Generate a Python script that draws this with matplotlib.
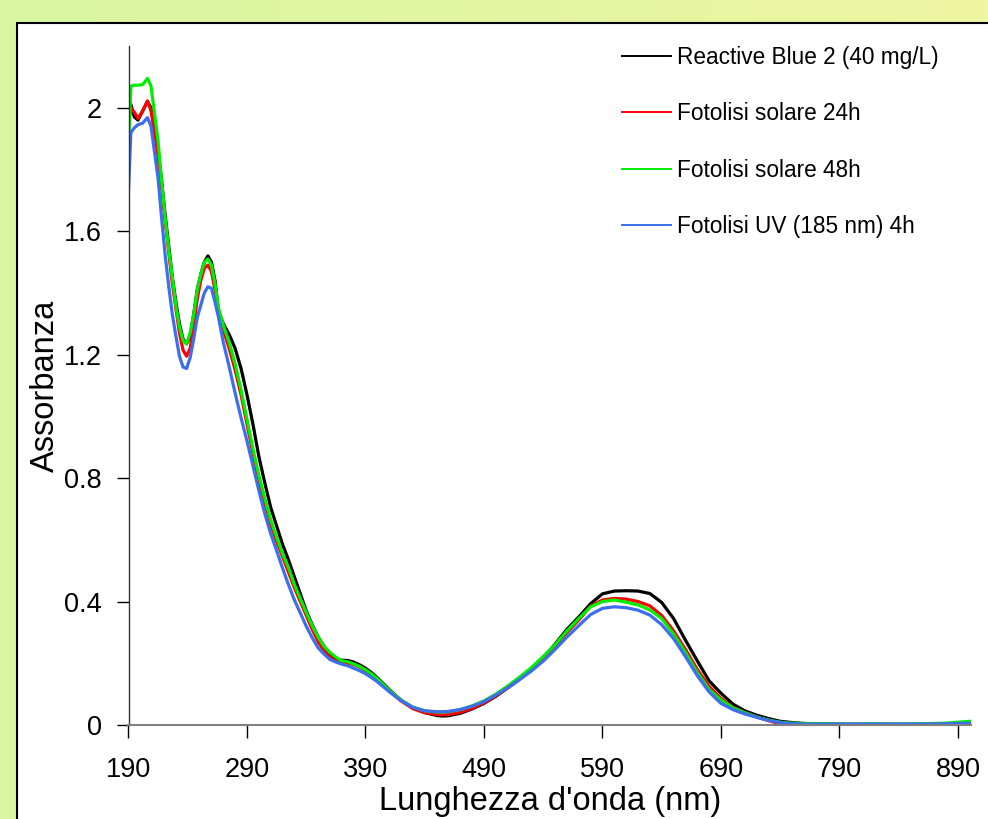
import numpy as np
import matplotlib
matplotlib.use("Agg")
import matplotlib.pyplot as plt
from matplotlib.patches import Rectangle
from matplotlib.colors import LinearSegmentedColormap

plt.rcParams['font.family'] = ['Liberation Sans', 'DejaVu Sans']

wavelength = [190, 192, 195, 198, 202, 206, 209, 212, 215, 218, 221, 224, 227, 230, 233, 236, 239, 242,
              245, 248, 251, 254, 257, 260, 263, 266, 270, 275, 280, 285, 290, 295, 300, 305, 310, 315,
              320, 325, 330, 335, 340, 345, 350, 355, 360, 365, 370, 375, 380, 385, 390, 395, 400, 410,
              420, 430, 440, 450, 455, 460, 470, 480, 490, 500, 510, 520, 530, 540, 550, 560, 570, 580,
              590, 600, 610, 620, 630, 640, 650, 660, 670, 680, 690, 700, 710, 720, 730, 740, 750, 760,
              780, 800, 820, 840, 860, 880, 900]

rb2 = [2.03, 2.01, 1.97, 1.96, 1.99, 2.02, 2.00, 1.93, 1.86, 1.76, 1.65, 1.55, 1.45, 1.37, 1.30, 1.25, 1.235, 1.26,
       1.33, 1.41, 1.46, 1.50, 1.52, 1.50, 1.44, 1.34, 1.30, 1.265, 1.22, 1.155, 1.07, 0.975, 0.87, 0.785, 0.705, 0.645,
       0.585, 0.535, 0.48, 0.425, 0.37, 0.325, 0.285, 0.255, 0.225, 0.214, 0.210, 0.209, 0.204, 0.195, 0.184, 0.170, 0.153, 0.115,
       0.080, 0.055, 0.040, 0.031, 0.029, 0.030, 0.038, 0.052, 0.070, 0.093, 0.120, 0.148, 0.178, 0.218, 0.262, 0.310, 0.350, 0.393,
       0.425, 0.434, 0.435, 0.434, 0.426, 0.397, 0.345, 0.275, 0.208, 0.143, 0.103, 0.068, 0.046, 0.032, 0.021, 0.012, 0.008, 0.005,
       0.003, 0.002, 0.002, 0.002, 0.002, 0.003, 0.004]

sol24 = [1.95, 2.00, 1.985, 1.965, 1.99, 2.022, 1.99, 1.92, 1.84, 1.74, 1.63, 1.53, 1.43, 1.35, 1.27, 1.215, 1.195, 1.22,
         1.29, 1.38, 1.44, 1.48, 1.49, 1.47, 1.41, 1.33, 1.28, 1.22, 1.15, 1.07, 0.975, 0.88, 0.795, 0.72, 0.65, 0.595,
         0.545, 0.495, 0.445, 0.40, 0.355, 0.31, 0.27, 0.24, 0.22, 0.207, 0.202, 0.200, 0.196, 0.188, 0.176, 0.163, 0.147, 0.110,
         0.078, 0.053, 0.040, 0.034, 0.033, 0.034, 0.041, 0.054, 0.072, 0.095, 0.121, 0.150, 0.180, 0.215, 0.255, 0.300, 0.340, 0.385,
         0.405, 0.410, 0.408, 0.400, 0.386, 0.355, 0.305, 0.245, 0.180, 0.125, 0.086, 0.058, 0.040, 0.026, 0.014, 0.004, -0.002, -0.003,
         -0.003, -0.002, -0.001, 0.000, 0.001, 0.002, 0.002]

sol48 = [1.87, 2.07, 2.073, 2.073, 2.075, 2.095, 2.07, 1.98, 1.89, 1.76, 1.64, 1.54, 1.45, 1.36, 1.29, 1.245, 1.235, 1.27,
         1.33, 1.41, 1.46, 1.50, 1.51, 1.49, 1.43, 1.35, 1.295, 1.24, 1.17, 1.085, 0.99, 0.895, 0.81, 0.735, 0.665, 0.608,
         0.555, 0.51, 0.455, 0.41, 0.365, 0.322, 0.285, 0.255, 0.235, 0.220, 0.208, 0.205, 0.198, 0.190, 0.179, 0.166, 0.150, 0.113,
         0.081, 0.058, 0.046, 0.042, 0.042, 0.043, 0.050, 0.062, 0.078, 0.100, 0.126, 0.155, 0.186, 0.222, 0.260, 0.305, 0.345, 0.383,
         0.400, 0.405, 0.398, 0.389, 0.373, 0.345, 0.295, 0.235, 0.170, 0.115, 0.081, 0.056, 0.040, 0.026, 0.016, 0.009, 0.006, 0.005,
         0.004, 0.003, 0.004, 0.003, 0.004, 0.006, 0.012]

uv185 = [1.73, 1.92, 1.935, 1.945, 1.95, 1.968, 1.94, 1.855, 1.77, 1.64, 1.52, 1.42, 1.33, 1.26, 1.195, 1.16, 1.155, 1.19,
         1.25, 1.32, 1.36, 1.40, 1.42, 1.415, 1.37, 1.32, 1.24, 1.16, 1.075, 0.995, 0.92, 0.84, 0.76, 0.685, 0.62, 0.565,
         0.508, 0.455, 0.405, 0.363, 0.32, 0.283, 0.25, 0.23, 0.212, 0.204, 0.197, 0.192, 0.184, 0.176, 0.166, 0.154, 0.140, 0.108,
         0.079, 0.057, 0.046, 0.043, 0.043, 0.044, 0.050, 0.061, 0.076, 0.097, 0.121, 0.147, 0.175, 0.207, 0.245, 0.285, 0.322, 0.358,
         0.378, 0.383, 0.380, 0.372, 0.356, 0.325, 0.280, 0.222, 0.160, 0.107, 0.070, 0.050, 0.036, 0.025, 0.015, 0.008, 0.004, 0.003,
         0.003, 0.003, 0.003, 0.003, 0.003, 0.004, 0.006]

series_labels = ["Reactive Blue 2 (40 mg/L)", "Fotolisi solare 24h", "Fotolisi solare 48h", "Fotolisi UV (185 nm) 4h"]
series_colors = ["#000000", "#ff0000", "#00ee00", "#3d6ef0"]
x_ticks = [190, 290, 390, 490, 590, 690, 790, 890]
y_ticks = [0, 0.4, 0.8, 1.2, 1.6, 2.0]
y_ticklabels = ["0", "0.4", "0.8", "1.2", "1.6", "2"]

fig = plt.figure(figsize=(9.88, 8.19), dpi=100)

# background gradient + white panel
bg = fig.add_axes([0, 0, 1, 1], zorder=-5)
cmap = LinearSegmentedColormap.from_list("bg", ["#d9f5a0", "#eef6a2"])
bg.imshow(np.linspace(0, 1, 256).reshape(1, -1), aspect='auto', cmap=cmap, extent=[0, 1, 0, 1])
bg.add_patch(Rectangle((17 / 988, -0.05), 1.1, 0.05 + 1 - 23 / 819, facecolor='white',
                       edgecolor='black', linewidth=1.5, transform=bg.transAxes))
bg.set_xlim(0, 1)
bg.set_ylim(0, 1)
bg.axis('off')

ax = fig.add_axes([128.5 / 988, 1 - 725 / 819, (971 - 128.5) / 988, (725 - 46) / 819])
ax.patch.set_alpha(0)

series = [rb2, sol24, sol48, uv185]
for vals, lab, col in zip(series, series_labels, series_colors):
    ax.plot(wavelength, vals, color=col, lw=2.3, label=lab)

ax.set_xlim(190, 901)
ax.set_ylim(0, 2.2)
ax.set_xticks(x_ticks)
ax.set_yticks(y_ticks)
ax.set_yticklabels(y_ticklabels)
ax.tick_params(axis='both', labelsize=19.5, length=9, width=1, color='#000000')
ax.tick_params(axis='x', pad=14)
ax.tick_params(axis='y', pad=10)

for s in ['top', 'right']:
    ax.spines[s].set_visible(False)
ax.spines['left'].set_color('#333333')
ax.spines['left'].set_linewidth(1.0)
ax.spines['bottom'].set_color('#808080')
ax.spines['bottom'].set_linewidth(1.5)

ax.set_xlabel("Lunghezza d'onda (nm)", fontsize=23.5)
ax.set_ylabel("Assorbanza", fontsize=23.5)
ax.xaxis.set_label_coords(0.5, -0.09)
ax.yaxis.set_label_coords(-0.08, 0.5)

leg = ax.legend(loc='upper left', bbox_to_anchor=(0.5858, 1.0006), frameon=False, fontsize=16.3,
                handlelength=2.17, handletextpad=0.27, labelspacing=1.48, borderpad=0, borderaxespad=0)
for ln in leg.get_lines():
    ln.set_linewidth(1.4)

fig.savefig("out.png", dpi=100)
